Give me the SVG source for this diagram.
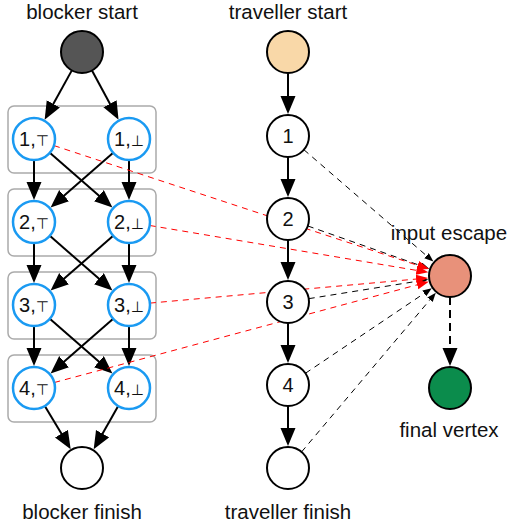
<svg xmlns="http://www.w3.org/2000/svg" width="507" height="527" viewBox="0 0 507 527">
<style>
text{font-family:"Liberation Sans",Arial,"DejaVu Sans",sans-serif;fill:#111;text-anchor:middle}
.lbl{font-size:20.5px}
.nl{font-size:20px}
.s{font-family:"DejaVu Sans",sans-serif;font-size:15px}
.box{fill:none;stroke:#aaa;stroke-width:1.5}
.bn{fill:#fff;stroke:#1a9af2;stroke-width:2.5}
.tn{fill:#fff;stroke:#000;stroke-width:2}
.e{stroke:#000;stroke-width:2;fill:none;marker-end:url(#ah)}
.d{stroke:#000;stroke-width:1;stroke-dasharray:6 5;fill:none;marker-end:url(#sh)}
.r{stroke:#f00;stroke-width:1;stroke-dasharray:6 5;fill:none;marker-end:url(#rh)}
.f{stroke:#000;stroke-width:2;stroke-dasharray:8 5;fill:none;marker-end:url(#ah)}
</style>
<defs>
<marker id="ah" markerUnits="userSpaceOnUse" markerWidth="20" markerHeight="16" refX="1" refY="7.5" orient="auto"><path d="M0,0 L18,7.5 L0,15 z" fill="#000"/></marker>
<marker id="sh" markerUnits="userSpaceOnUse" markerWidth="11" markerHeight="8" refX="1" refY="3.5" orient="auto"><path d="M0,0 L9,3.5 L0,7 z" fill="#000"/></marker>
<marker id="rh" markerUnits="userSpaceOnUse" markerWidth="14" markerHeight="10" refX="1" refY="4.5" orient="auto"><path d="M0,0 L12,4.5 L0,9 z" fill="#f00"/></marker>
</defs>
<g id="groups">
<rect class="box" x="8" y="106" width="148" height="67" rx="6"/>
<rect class="box" x="8" y="189" width="148" height="67" rx="6"/>
<rect class="box" x="8" y="272" width="148" height="67" rx="6"/>
<rect class="box" x="8" y="355" width="148" height="67" rx="6"/>
</g>
<g id="connectors">
<line class="e" x1="71.85" y1="70.39" x2="52.85" y2="104.85"/>
<line class="e" x1="91.98" y1="70.48" x2="110.46" y2="104.68"/>
<line class="e" x1="34" y1="160" x2="34" y2="183"/>
<line class="e" x1="129" y1="160" x2="129" y2="183"/>
<line class="e" x1="49.81" y1="152.82" x2="99.63" y2="196.34"/>
<line class="e" x1="113.19" y1="152.82" x2="63.37" y2="196.34"/>
<line class="e" x1="34" y1="243" x2="34" y2="266"/>
<line class="e" x1="129" y1="243" x2="129" y2="266"/>
<line class="e" x1="49.81" y1="235.82" x2="99.63" y2="279.34"/>
<line class="e" x1="113.19" y1="235.82" x2="63.37" y2="279.34"/>
<line class="e" x1="34" y1="326" x2="34" y2="349"/>
<line class="e" x1="129" y1="326" x2="129" y2="349"/>
<line class="e" x1="49.81" y1="318.82" x2="99.63" y2="362.34"/>
<line class="e" x1="113.19" y1="318.82" x2="63.37" y2="362.34"/>
<line class="e" x1="44.8" y1="406.01" x2="61.94" y2="434.56"/>
<line class="e" x1="118.2" y1="406.01" x2="102.06" y2="434.56"/>
<line class="e" x1="288" y1="73" x2="288" y2="97"/>
<line class="e" x1="288" y1="157" x2="288" y2="180"/>
<line class="e" x1="288" y1="240" x2="288" y2="263"/>
<line class="e" x1="288" y1="323" x2="288" y2="346"/>
<line class="e" x1="288" y1="406" x2="288" y2="429"/>
<line class="d" x1="303.89" y1="149.73" x2="427.3" y2="256.38"/>
<line class="d" x1="307.81" y1="225.97" x2="421.7" y2="266.04"/>
<line class="d" x1="308.74" y1="298.67" x2="420.37" y2="280.76"/>
<line class="d" x1="305.42" y1="373.28" x2="425.11" y2="292.74"/>
<line class="d" x1="301.54" y1="451.95" x2="430.66" y2="298.93"/>
<line class="r" x1="53.95" y1="145.57" x2="418.65" y2="265.68"/>
<line class="r" x1="149.71" y1="225.48" x2="417.46" y2="270.53"/>
<line class="r" x1="149.91" y1="303.11" x2="417.14" y2="278.97"/>
<line class="r" x1="54.28" y1="382.54" x2="418.13" y2="284.58"/>
<line class="f" x1="450" y1="297" x2="450" y2="349"/>
</g>
<g id="blocker-start"><circle cx="82" cy="52" r="21" fill="#555" stroke="#000" stroke-width="2"/><text class="lbl" x="82" y="19">blocker start</text></g>
<g id="b1t"><circle class="bn" cx="34" cy="139" r="21"/><text class="nl" x="34" y="146">1,<tspan class="s">⊤</tspan></text></g>
<g id="b1f"><circle class="bn" cx="129" cy="139" r="21"/><text class="nl" x="129" y="146">1,<tspan class="s">⊥</tspan></text></g>
<g id="b2t"><circle class="bn" cx="34" cy="222" r="21"/><text class="nl" x="34" y="229">2,<tspan class="s">⊤</tspan></text></g>
<g id="b2f"><circle class="bn" cx="129" cy="222" r="21"/><text class="nl" x="129" y="229">2,<tspan class="s">⊥</tspan></text></g>
<g id="b3t"><circle class="bn" cx="34" cy="305" r="21"/><text class="nl" x="34" y="312">3,<tspan class="s">⊤</tspan></text></g>
<g id="b3f"><circle class="bn" cx="129" cy="305" r="21"/><text class="nl" x="129" y="312">3,<tspan class="s">⊥</tspan></text></g>
<g id="b4t"><circle class="bn" cx="34" cy="388" r="21"/><text class="nl" x="34" y="395">4,<tspan class="s">⊤</tspan></text></g>
<g id="b4f"><circle class="bn" cx="129" cy="388" r="21"/><text class="nl" x="129" y="395">4,<tspan class="s">⊥</tspan></text></g>
<g id="blocker-finish"><circle class="tn" cx="82" cy="468" r="21"/><text class="lbl" x="82" y="519">blocker finish</text></g>
<g id="traveller-start"><circle cx="288" cy="52" r="21" fill="#f9d8a8" stroke="#000" stroke-width="2"/><text class="lbl" x="288" y="19">traveller start</text></g>
<g id="t1"><circle class="tn" cx="288" cy="136" r="21"/><text class="nl" x="288" y="143">1</text></g>
<g id="t2"><circle class="tn" cx="288" cy="219" r="21"/><text class="nl" x="288" y="226">2</text></g>
<g id="t3"><circle class="tn" cx="288" cy="302" r="21"/><text class="nl" x="288" y="309">3</text></g>
<g id="t4"><circle class="tn" cx="288" cy="385" r="21"/><text class="nl" x="288" y="392">4</text></g>
<g id="traveller-finish"><circle class="tn" cx="288" cy="468" r="21"/><text class="lbl" x="288" y="519">traveller finish</text></g>
<g id="input-escape"><circle cx="450" cy="276" r="21" fill="#e8917a" stroke="#000" stroke-width="2"/><text class="lbl" x="449" y="240">input escape</text></g>
<g id="final-vertex"><circle cx="450" cy="388" r="21" fill="#0b8c4c" stroke="#000" stroke-width="2"/><text class="lbl" x="449" y="437">final vertex</text></g>
</svg>
